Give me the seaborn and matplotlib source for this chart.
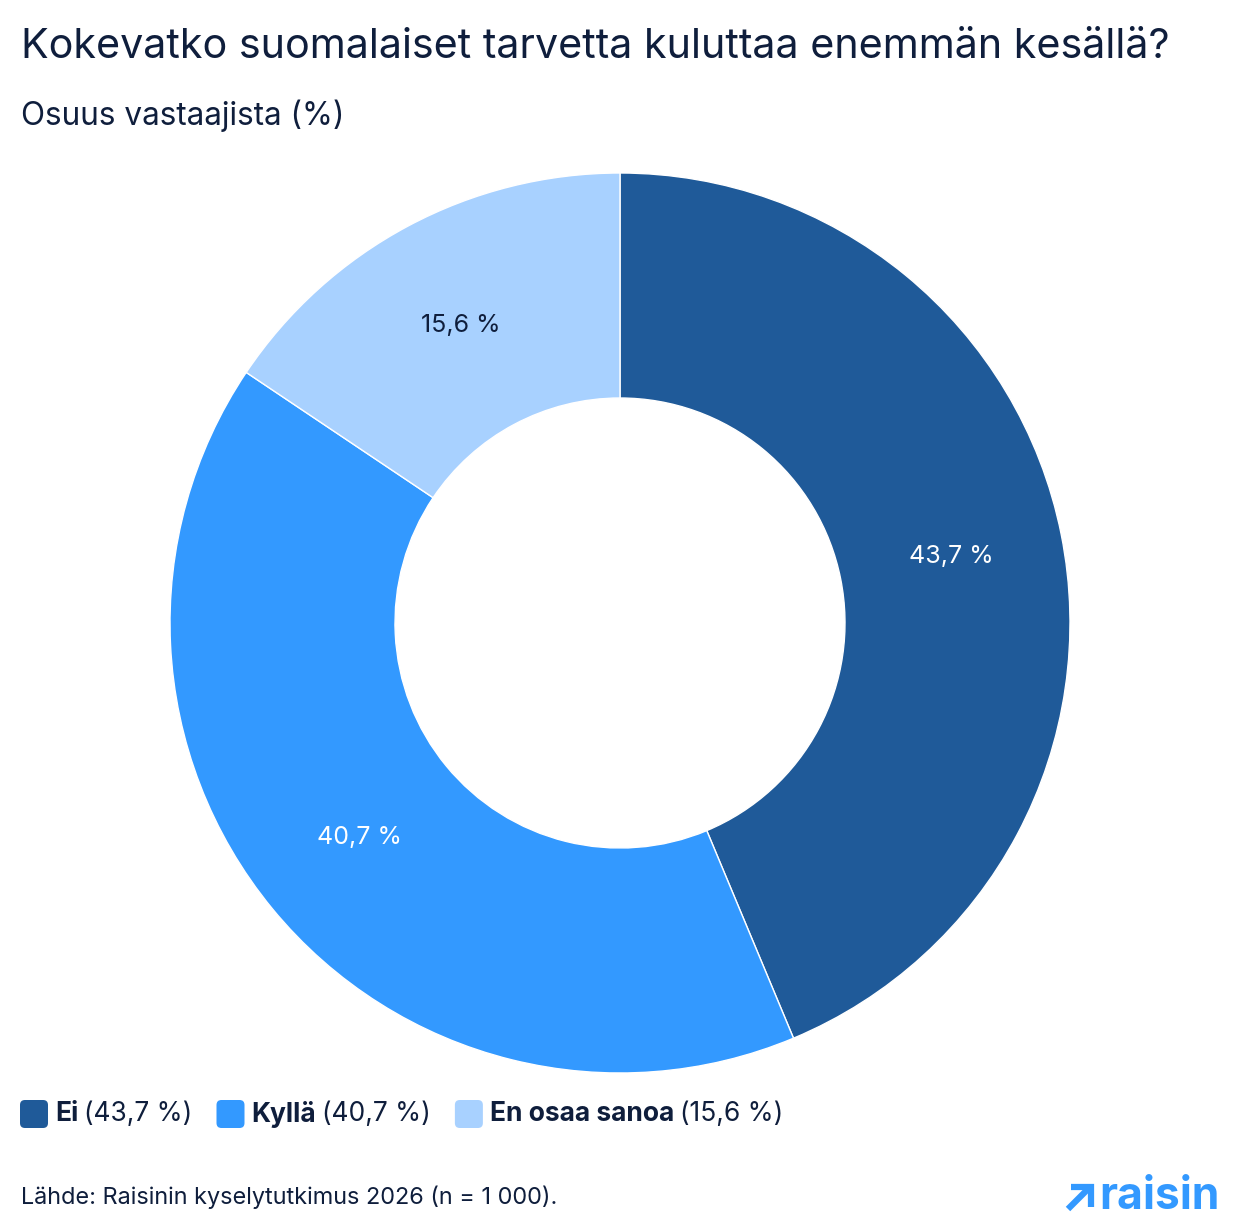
import matplotlib
matplotlib.use("Agg")
import matplotlib.pyplot as plt
import seaborn as sns
from matplotlib.patches import FancyBboxPatch
from matplotlib.lines import Line2D

# data
categories = ["Ei", "Kyllä", "En osaa sanoa"]
shares = [43.7, 40.7, 15.6]
colors = ["#1f5a99", "#3399ff", "#a8d1ff"]
label_colors = ["white", "white", "#0f1e3c"]

title = "Kokevatko suomalaiset tarvetta kuluttaa enemmän kesällä?"
subtitle = "Osuus vastaajista (%)"
source = "Lähde: Raisinin kyselytutkimus 2026 (n = 1 000)."

sns.set_theme(style="white")
plt.rcParams["font.family"] = ["Inter", "DejaVu Sans"]
navy = "#0f1e3c"

def fmt(v):
    return f"{v:.1f} %".replace(".", ",")

W, H = 1240, 1232
fig = plt.figure(figsize=(W / 100, H / 100), dpi=100)

# donut, centre (620, 623) px, radius 450 px
ax = fig.add_axes([(620 - 450) / W, (H - 623 - 450) / H, 900 / W, 900 / H])
wedges, texts, autotexts = ax.pie(
    shares, colors=colors, startangle=90, counterclock=False,
    radius=1, autopct=lambda p: fmt(p), pctdistance=0.75,
    wedgeprops=dict(width=0.5, edgecolor="white", linewidth=1),
    textprops=dict(fontsize=18))
for t, c in zip(autotexts, label_colors):
    t.set_color(c)
ax.set_xlim(-1, 1)
ax.set_ylim(-1, 1)
ax.set_aspect("equal")
ax.axis("off")

fig.text(21 / W, 1 - 47 / H, title, fontsize=29.7, color=navy, va="center", ha="left")
fig.text(21 / W, 1 - 116 / H, subtitle, fontsize=22.7, color=navy, va="center", ha="left")
fig.text(21 / W, 1 - 1197 / H, source, fontsize=16.9, color=navy, va="center", ha="left")

# legend built by hand: bold name + normal percentage
fig.canvas.draw()
renderer = fig.canvas.get_renderer()
x = 20
y = 1 - 1114 / H
for name, val, c in zip(categories, shares, colors):
    box = FancyBboxPatch((x / W, y - 14 / H), 28 / W, 28 / H,
                         boxstyle="round,pad=0,rounding_size=0.004",
                         transform=fig.transFigure, facecolor=c, edgecolor="none")
    fig.patches.append(box)
    x += 35
    t1 = fig.text(x / W, y, name, fontsize=19, fontweight="bold", color=navy, va="center")
    x = t1.get_window_extent(renderer).x1 + 6
    t2 = fig.text(x / W, y, f"({fmt(val)})", fontsize=19, color=navy, va="center")
    x = t2.get_window_extent(renderer).x1 + 24

# raisin logo
blue = "#3399ff"
fig.text(1220 / W, 1 - 1197 / H, "raisin", fontsize=32, fontweight="bold", color=blue,
         ha="right", va="center")
fig.lines.append(Line2D([1068 / W, 1090 / W], [1 - 1209 / H, 1 - 1187 / H],
                        transform=fig.transFigure, color=blue, lw=4.5, solid_capstyle="butt"))
fig.lines.append(Line2D([1071 / W, 1091 / W, 1091 / W], [1 - 1187 / H, 1 - 1187 / H, 1 - 1207 / H],
                        transform=fig.transFigure, color=blue, lw=4.5, solid_capstyle="butt",
                        solid_joinstyle="miter"))

fig.savefig("out.png", dpi=100, facecolor="white")
